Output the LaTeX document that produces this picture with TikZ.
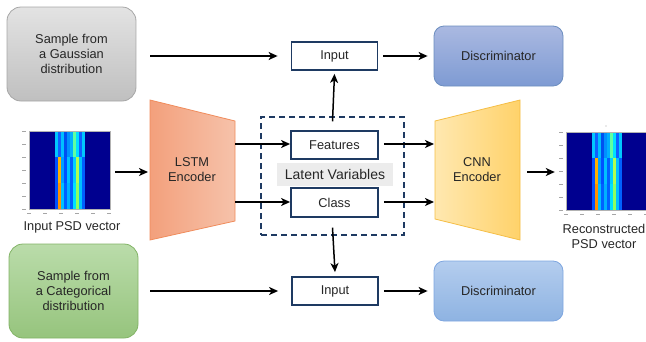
\documentclass[tikz,border=0pt]{standalone}
\usepackage{fontspec}
\setmainfont{Liberation Sans}
\usetikzlibrary{arrows.meta}

\definecolor{navy}{HTML}{1E3A62}
\definecolor{hmbg}{HTML}{00008F}

\tikzset{
  lbl/.style={font=\fontsize{12.8}{15}\selectfont, align=center, text=black!85},
  smp/.style={lbl, draw, line width=0.8pt, rounded corners=14pt,
    minimum width=129pt, minimum height=94pt},
  disc/.style={lbl, draw, line width=0.8pt, rounded corners=10pt,
    minimum width=129pt, minimum height=60pt},
  vbox/.style={lbl, draw=navy, line width=1.8pt, fill=white,
    minimum width=86pt, minimum height=28pt, inner sep=0pt},
  arr/.style={-{Stealth[length=9pt,width=8pt,inset=2.5pt]}, line width=1.5pt, black},
  tick/.style={gray!70, line width=0.8pt}
}

% one spectrogram tile: #1,#2 = top-left corner
\newcommand\psdtile[2]{%
  \begin{scope}[shift={(#1,#2)}]
    \fill[hmbg] (0,0) rectangle (81,78);
    \foreach \c [count=\i from 0] in {00C8FF,1060FF,00C0FF,0050F0,0090FF,00B0FF,60FFA0,00E0FF,1060FF,00C8FF}{
      \definecolor{cc}{HTML}{\c}\fill[cc] (26+3*\i,0) rectangle +(3,26);}
    \foreach \c [count=\i from 0] in {0050FF,FFB000,00A0FF,0050FF,00C0FF,0060FF,00D0FF,B0FF50,00C0FF,0060FF}{
      \definecolor{cc}{HTML}{\c}\fill[cc] (26+3*\i,26) rectangle +(3,26);}
    \foreach \c [count=\i from 0] in {0050FF,FF9000,00C0FF,0060FF,00B0FF,0060FF,00E0FF,90FF60,00C0FF,0060FF}{
      \definecolor{cc}{HTML}{\c}\fill[cc] (26+3*\i,52) rectangle +(3,26);}
    \draw[gray!60, line width=0.4pt] (0,0) rectangle (81,78);
    \foreach \t in {0,13,...,78} \draw[tick] (-7,\t) -- (-3,\t);
    \foreach \t in {0,16,...,80} \draw[tick] (\t-2,82) -- (\t+2,82);
  \end{scope}}

\begin{document}
\begin{tikzpicture}[x=1pt,y=-1pt]
  \useasboundingbox (0,0) rectangle (646,341);

  % sampling sources
  \node[smp, draw=gray!70, top color=gray!22, bottom color=gray!50] (gauss) at (71.5,54)
    {Sample from\\a Gaussian\\distribution};
  \node[smp, draw={rgb,255:red,130;green,179;blue,102},
        top color={rgb,255:red,186;green,220;blue,170},
        bottom color={rgb,255:red,150;green,196;blue,125}] (cat) at (73.5,291)
    {Sample from\\a Categorical\\distribution};

  % discriminators
  \node[disc, draw={rgb,255:red,108;green,142;blue,191},
        top color={rgb,255:red,170;green,185;blue,225},
        bottom color={rgb,255:red,126;green,155;blue,211}] (disc1) at (498.5,56) {Discriminator};
  \node[disc, draw={rgb,255:red,126;green,166;blue,224},
        top color={rgb,255:red,180;green,205;blue,238},
        bottom color={rgb,255:red,142;green,179;blue,226}] (disc2) at (498.5,291) {Discriminator};

  % input boxes
  \node[vbox] (in1) at (334.5,56) {Input};
  \node[vbox] (in2) at (335,291) {Input};

  % latent space
  \node[draw=navy, dashed, dash pattern=on 6pt off 4pt, line width=1.3pt,
        minimum width=143pt, minimum height=118pt] (latent) at (332.5,176) {};
  \node[lbl, fill=gray!15, minimum width=116pt, minimum height=23pt, inner sep=0pt,
        font=\fontsize{14}{16}\selectfont] (lv) at (335,174.5) {Latent Variables};
  \node[vbox, minimum width=87pt] (feat) at (334.5,145) {Features};
  \node[vbox, minimum width=87pt, minimum height=29pt] (cls) at (334.5,202.5) {Class};

  % LSTM encoder
  \path[draw={rgb,255:red,240;green,140;blue,92}, line width=0.8pt,
        left color={rgb,255:red,243;green,160;blue,124},
        right color={rgb,255:red,246;green,194;blue,170}]
    (150,100) -- (235,121) -- (235,221) -- (150,240) -- cycle;
  \node[lbl] (lstm) at (192,170) {LSTM\\Encoder};
  \coordinate (lstmW) at (150,172);
  \coordinate (lstmE1) at (235,144);
  \coordinate (lstmE2) at (235,202);

  % CNN encoder
  \path[draw={rgb,255:red,245;green,190;blue,70}, line width=0.8pt,
        left color={rgb,255:red,255;green,232;blue,176},
        right color={rgb,255:red,255;green,210;blue,106}]
    (435,121) -- (520,100) -- (520,240) -- (435,219) -- cycle;
  \node[lbl] (cnn) at (477,170) {CNN\\Encoder};
  \coordinate (cnnW1) at (435,144);
  \coordinate (cnnW2) at (435,202);
  \coordinate (cnnE) at (520,172);

  % spectrograms
  \psdtile{29}{131}
  \node[minimum width=81pt, minimum height=78pt, inner sep=0pt] (psdin) at (69.5,170) {};
  \node[lbl] (psdinlbl) at (72,227) {Input PSD vector};
  \psdtile{566}{132}
  \fill[gray!70] (606,126) circle (0.7);
  \node[minimum width=81pt, minimum height=78pt, inner sep=0pt] (psdout) at (606.5,171) {};
  \node[lbl] (psdoutlbl) at (604,236) {Reconstructed\\PSD vector};

  % connectors
  \draw[arr] ([xshift=14pt]gauss.east |- in1) -- ([xshift=-13pt]in1.west);
  \draw[arr] ([xshift=5pt]in1.east) -- ([xshift=-6pt]disc1.west |- in1);
  \draw[arr] ([xshift=12pt]cat.east) -- ([xshift=-13pt]in2.west);
  \draw[arr] ([xshift=5pt]in2.east) -- ([xshift=-6pt]disc2.west);
  \draw[arr] ([xshift=5pt]psdin.east |- lstmW) -- ([xshift=-2pt]lstmW);
  \draw[arr] (lstmE1) -- (feat.west |- lstmE1);
  \draw[arr] (lstmE2) -- (cls.west |- lstmE2);
  \draw[arr] ([xshift=5pt]feat.east |- cnnW1) -- ([xshift=-1pt]cnnW1);
  \draw[arr] ([xshift=5pt]cls.east |- cnnW2) -- ([xshift=-1pt]cnnW2);
  \draw[arr] ([xshift=7pt]cnnE) -- ([xshift=-11pt]psdout.west |- cnnE);
  \draw[arr] ([yshift=-5pt]latent.north) -- ([yshift=-3pt]in1.south);
  \draw[arr] ([yshift=8pt]latent.south) -- ([yshift=4pt]in2.north);
\end{tikzpicture}
\end{document}
